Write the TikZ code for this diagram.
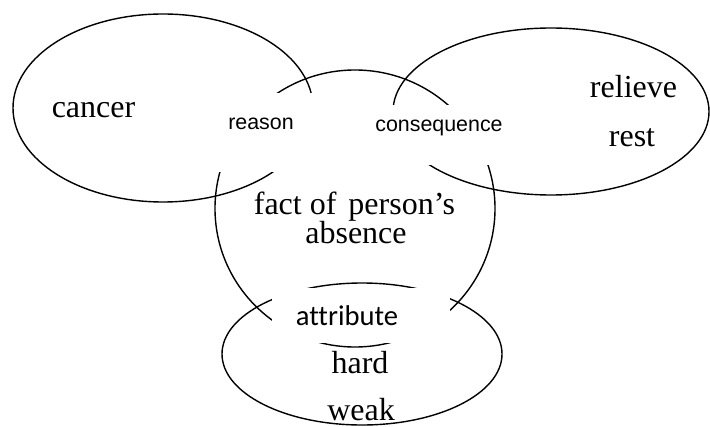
\documentclass[tikz,border=0pt]{standalone}
\usepackage{fontspec}
\setmainfont{Liberation Serif}
\newfontfamily\relfont{Liberation Sans}
\newfontfamily\attrfont[Ligatures=NoCommon]{Carlito}
\usetikzlibrary{shapes.geometric}

\begin{document}
\begin{tikzpicture}[x=0.5pt, y=-0.5pt,
		blob/.style={draw, ellipse, inner sep=0pt, line width=0.7pt},
		mask/.style={fill=white, inner sep=0pt},
		word/.style={anchor=base, inner sep=0pt, font=\fontsize{16}{19}\selectfont},
		rel/.style={anchor=base, inner sep=0pt, font=\relfont\fontsize{10.7}{13}\selectfont}]
		\useasboundingbox (0,0) rectangle (710,427);

		\draw (163,108) node[blob, minimum width=150pt, minimum height=94pt] (cancerset) {};
		\draw (551,111.5) node[blob, minimum width=158pt, minimum height=83.5pt] (reliefset) {};
		\draw (355,208.5) node[blob, minimum width=140pt, minimum height=138.5pt] (absenceset) {};
		\draw (362,354) node[blob, minimum width=140pt, minimum height=71pt] (attrset) {};

		\draw (281,132.5) node[mask, minimum width=69pt, minimum height=39.5pt] (reasonmask) {};
		\draw (433.5,135) node[mask, minimum width=71.5pt, minimum height=30pt] (conseqmask) {};
		\draw (361,315.5) node[mask, minimum width=89pt, minimum height=27.5pt] (attrmask) {};

		\draw (93.5,118) node[word] (cancer) {cancer};
		\draw (633.5,98) node[word] (relieve) {relieve};
		\draw (632,147) node[word] (rest) {rest};
		\draw (354.5,214) node[word] (fact) {fact of\hspace{2pt} person's};
		\draw (356,243) node[word] (absence) {absence};
		\draw (360,373) node[word] (hard) {hard};
		\draw (361,420) node[word] (weak) {weak};

		\draw (261,130) node[rel] (reason) {reason};
		\draw (439,132) node[rel] (consequence) {consequence};
		\draw (347,325) node[rel, font=\attrfont\fontsize{14.3}{17}\selectfont] (attribute) {attribute};
	\end{tikzpicture}
\end{document}
